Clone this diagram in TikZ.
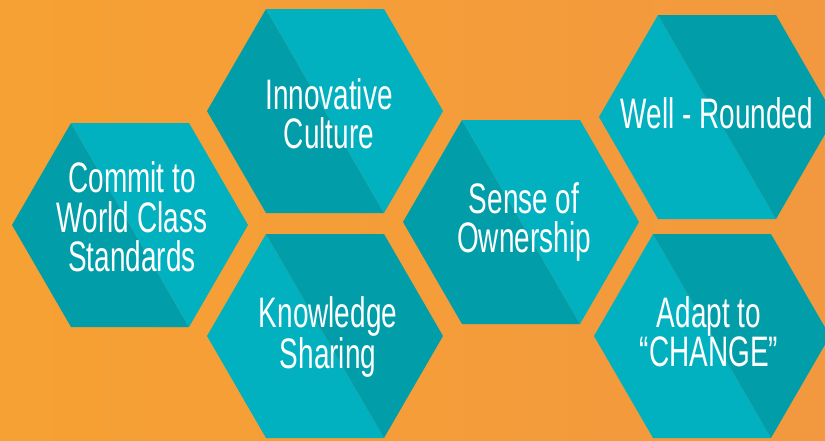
\documentclass[tikz,border=0pt]{standalone}
\usepackage{fontspec}
\newfontfamily\hexfont{Liberation Sans}[FakeStretch=0.655]
\definecolor{bgleft}{HTML}{F6A133}
\definecolor{bgright}{HTML}{F2993F}
\definecolor{tealdark}{HTML}{019EAA}
\definecolor{teallight}{HTML}{02B1BF}
\tikzset{
  hexdark/.style={fill=tealdark},
  hexlight/.style={fill=teallight},
  hexlabel/.style={text=white, align=center, inner sep=0pt,
    font=\hexfont\fontsize{32}{29.5}\selectfont}
}
\begin{document}
\begin{tikzpicture}[x=0.75pt,y=-0.75pt]
 \clip (0,0) rectangle (825,440);
 \fill[left color=bgleft,right color=bgright] (0,0) rectangle (825,440);

 \begin{scope}[shift={(130,225)}]
  \fill[hexdark] (-59,-102) -- (-118,0) -- (-59,102) -- (59,102) -- cycle;
  \fill[hexlight] (-59,-102) -- (59,-102) -- (118,0) -- (59,102) -- cycle;
  \node[hexlabel] (commit) at (2,-8) {Commit to\\World Class\\Standards};
 \end{scope}

 \begin{scope}[shift={(325,111)}]
  \fill[hexdark] (-59,-102) -- (-118,0) -- (-59,102) -- (59,102) -- cycle;
  \fill[hexlight] (-59,-102) -- (59,-102) -- (118,0) -- (59,102) -- cycle;
  \node[hexlabel] (innov) at (4,2.5) {Innovative\\Culture};
 \end{scope}

 \begin{scope}[shift={(325,336)}]
  \fill[hexlight] (-59,-102) -- (-118,0) -- (-59,102) -- (59,102) -- cycle;
  \fill[hexdark] (-59,-102) -- (59,-102) -- (118,0) -- (59,102) -- cycle;
  \node[hexlabel] (knowl) at (3,1) {Knowledge\\Sharing};
 \end{scope}

 \begin{scope}[shift={(521,222)}]
  \fill[hexdark] (-59,-102) -- (-118,0) -- (-59,102) -- (59,102) -- cycle;
  \fill[hexlight] (-59,-102) -- (59,-102) -- (118,0) -- (59,102) -- cycle;
  \node[hexlabel] (owner) at (3,0) {Sense of\\Ownership};
 \end{scope}

 \begin{scope}[shift={(717,117)}]
  \fill[hexlight] (-59,-102) -- (-118,0) -- (-59,102) -- (59,102) -- cycle;
  \fill[hexdark] (-59,-102) -- (59,-102) -- (118,0) -- (59,102) -- cycle;
  \node[hexlabel] (round) at (0,-3.5) {Well - Rounded};
 \end{scope}

 \begin{scope}[shift={(712,336)}]
  \fill[hexlight] (-59,-102) -- (-118,0) -- (-59,102) -- (59,102) -- cycle;
  \fill[hexdark] (-59,-102) -- (59,-102) -- (118,0) -- (59,102) -- cycle;
  \node[hexlabel] (adapt) at (-3,-4.5) {Adapt to\\“CHANGE”};
 \end{scope}
\end{tikzpicture}
\end{document}
